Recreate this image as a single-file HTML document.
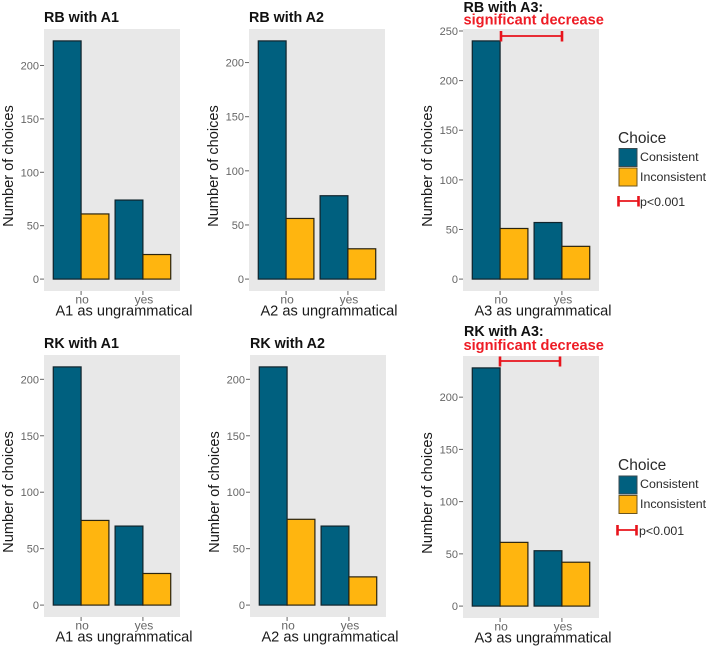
<!DOCTYPE html>
<html>
<head>
<meta charset="utf-8">
<style>
html,body{margin:0;padding:0;background:#fff;width:708px;height:646px;overflow:hidden}
svg{display:block;font-family:"Liberation Sans",sans-serif;filter:blur(0.35px)}
.title{font-size:14.3px;font-weight:bold;fill:#111}
.red{font-size:14.6px;font-weight:bold;fill:#ee1c25}
.tick{font-size:11px;fill:#666}
.axis{font-size:14.6px;fill:#1a1a1a}
.leg{font-size:12.4px;fill:#2a2a2a}
.legt{font-size:15.5px;fill:#2a2a2a}
</style>
</head>
<body>
<svg id="chart" width="708" height="646" viewBox="0 0 708 646" xmlns="http://www.w3.org/2000/svg">
  <g id="panels"></g>

  <g fill="none" stroke="#e8141c">
    <path stroke-width="1.7" d="M501 36H562"/>
    <path stroke-width="2.6" d="M501 31V41.500M562 31V41.500"/>
  </g>
  <g fill="none" stroke="#e8141c">
    <path stroke-width="1.7" d="M500 361H560"/>
    <path stroke-width="2.6" d="M500 356.500V366.500M560 356.500V366.500"/>
  </g>

  <text class="title" x="463.500" y="12">RB with A3:</text>
  <text class="red" x="463.500" y="24.500">significant decrease</text>
  <text class="title" x="464" y="336">RK with A3:</text>
  <text class="red" x="463.500" y="350">significant decrease</text>

  <g>
    <text class="legt" x="618" y="143">Choice</text>
    <rect x="619" y="148.500" width="18" height="18" fill="#00607f" stroke="#3a4a50"/>
    <rect x="619" y="168" width="18" height="18" fill="#ffb50f" stroke="#6b5520"/>
    <text class="leg" x="640" y="161">Consistent</text>
    <text class="leg" x="640" y="181">Inconsistent</text>
    <path d="M618.500 201H638.500" stroke="#e8141c" stroke-width="1.8" fill="none"/>
    <path d="M618.500 196V206.500M638.500 196V206.500" stroke="#e8141c" stroke-width="2.6" fill="none"/>
    <text class="leg" x="640" y="206">p&lt;0.001</text>
  </g>
  <g>
    <text class="legt" x="618" y="470">Choice</text>
    <rect x="619" y="476" width="18" height="18" fill="#00607f" stroke="#3a4a50"/>
    <rect x="619" y="495.500" width="18" height="18" fill="#ffb50f" stroke="#6b5520"/>
    <text class="leg" x="640" y="488">Consistent</text>
    <text class="leg" x="640" y="508">Inconsistent</text>
    <path d="M617.500 530H636.500" stroke="#e8141c" stroke-width="1.8" fill="none"/>
    <path d="M617.500 525V535.500M636.500 525V535.500" stroke="#e8141c" stroke-width="2.6" fill="none"/>
    <text class="leg" x="639" y="535">p&lt;0.001</text>
  </g>
</svg>
<script>
// Data
const categories = ['no', 'yes'];
const panelTitles = ['RB with A1', 'RB with A2', '', 'RK with A1', 'RK with A2', ''];
const xAxisTitles = ['A1 as ungrammatical', 'A2 as ungrammatical', 'A3 as ungrammatical', 'A1 as ungrammatical', 'A2 as ungrammatical', 'A3 as ungrammatical'];
const consistentValues = [[223, 74], [220, 77], [240, 57], [211, 70], [211, 70], [228, 53]];
const inconsistentValues = [[61, 23], [56, 28], [51, 33], [75, 28], [76, 25], [61, 42]];
const axisMaximums = [223, 220, 240, 211, 211, 228];
const yTickLabels = [[0, 50, 100, 150, 200], [0, 50, 100, 150, 200], [0, 50, 100, 150, 200, 250], [0, 50, 100, 150, 200], [0, 50, 100, 150, 200], [0, 50, 100, 150, 200]];

// Layout
const panelLefts = [44, 249, 463, 44, 250, 463];
const panelTops = [29, 29, 29, 355, 355, 356];
const PANEL_W = 136, PANEL_H = 262;
const NS = 'http://www.w3.org/2000/svg';
const root = document.getElementById('panels');

function make(tag, attrs, parent, text) {
  const el = document.createElementNS(NS, tag);
  for (const k in attrs) el.setAttribute(k, attrs[k]);
  if (text !== undefined) el.textContent = text;
  parent.appendChild(el);
  return el;
}

consistentValues.forEach(function (cons, i) {
  const left = panelLefts[i], top = panelTops[i];
  const yScale = function (v) { return top + PANEL_H * 21 / 22 - (PANEL_H * 20 / 22) * v / axisMaximums[i]; };
  const unit = PANEL_W / 2.2;
  const xScale = function (c) { return left + (0.6 + c) * unit; };
  const barW = 0.45 * unit;

  const g = make('g', {}, root);
  
  

  const bg = make('rect', { x: left, y: top, width: PANEL_W, height: PANEL_H, fill: '#e8e8e8' }, g);
  
  

  yTickLabels[i].forEach(function (t) {
    const y = yScale(t);
    const tick = make('line', { x1: left - 4, x2: left, y1: y, y2: y, stroke: '#666', 'stroke-width': 1 }, g);
    
    
    const lab = make('text', { x: left - 5, y: y + 4, 'text-anchor': 'end', class: 'tick' }, g, String(t));
    
    
  });

  categories.forEach(function (cat, c) {
    const cx = xScale(c);
    const a = cons[c], b = inconsistentValues[i][c];
    const y0 = yScale(0);
    const r1 = make('rect', { x: cx - barW, y: yScale(a), width: barW, height: y0 - yScale(a), fill: '#00607f', stroke: '#10242c', 'stroke-width': 1.2 }, g);
    
    
    const r2 = make('rect', { x: cx, y: yScale(b), width: barW, height: y0 - yScale(b), fill: '#ffb50f', stroke: '#2a2410', 'stroke-width': 1.2 }, g);
    
    
    const tick = make('line', { x1: cx, x2: cx, y1: top + PANEL_H, y2: top + PANEL_H + 4, stroke: '#666', 'stroke-width': 1 }, g);
    
    
    const lab = make('text', { x: cx + 1, y: top + PANEL_H + 12.5, 'text-anchor': 'middle', class: 'tick', style: 'font-size:12px' }, g, cat);
    
    
  });

  const xt = make('text', { x: left + 80, y: top + PANEL_H + 24.5, 'text-anchor': 'middle', class: 'axis' }, g, xAxisTitles[i]);
  
  

  const mid = top + 137;
  const yx = left - 31;
  const yt = make('text', { x: yx, y: mid, 'text-anchor': 'middle', class: 'axis', transform: 'rotate(-90 ' + yx + ' ' + mid + ')' }, g, 'Number of choices');
  
  

  if (panelTitles[i]) {
    const tt = make('text', { x: left, y: top - 7, class: 'title' }, g, panelTitles[i]);
    
    
  }
});
</script>
</body>
</html>
